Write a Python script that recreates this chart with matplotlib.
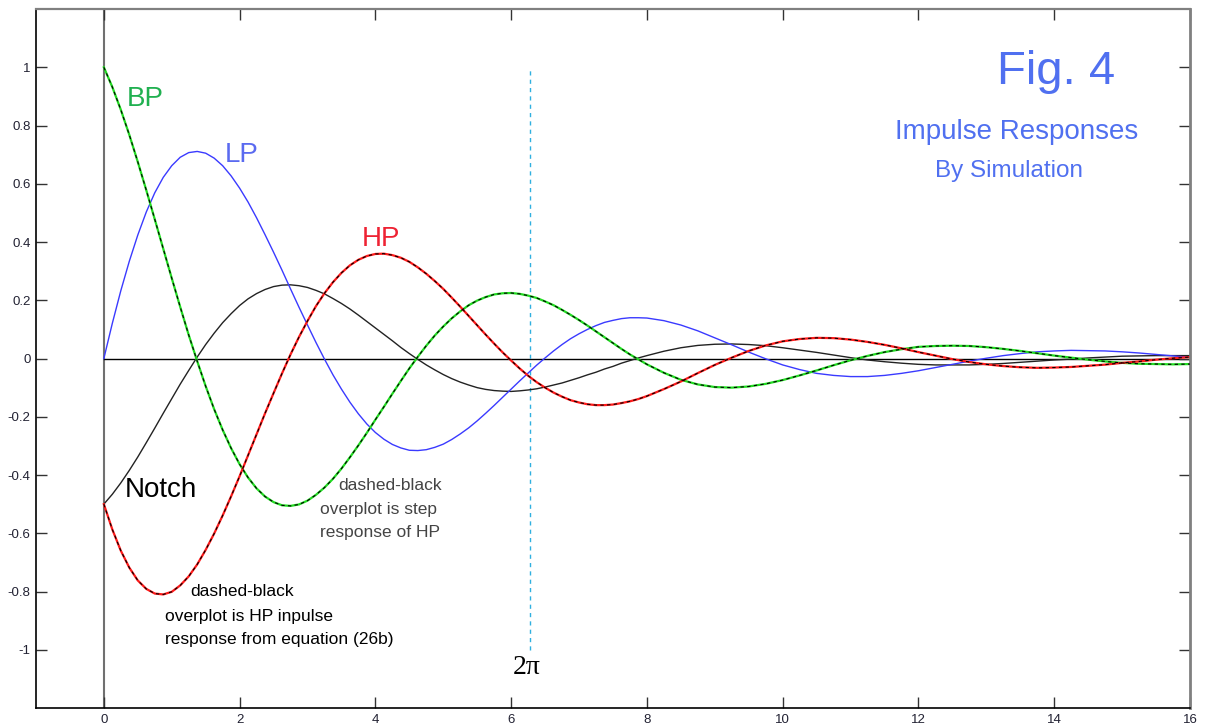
import numpy as np
import matplotlib
matplotlib.use("Agg")
import matplotlib.pyplot as plt

plt.rcParams['font.family'] = ['Liberation Sans', 'DejaVu Sans']

# sample times: 0.125 s steps up to 8 s, then 0.25 s steps
t = np.concatenate([np.arange(0, 8, 0.125), np.arange(8, 16.01, 0.25)])

# values
lp = [0.000, 0.121, 0.233, 0.334, 0.424, 0.503, 0.569, 0.622, 0.662, 0.691,
      0.707, 0.711, 0.705, 0.688, 0.662, 0.627, 0.585, 0.537, 0.483, 0.425,
      0.365, 0.303, 0.239, 0.176, 0.115, 0.055, -0.002, -0.056, -0.105, -0.150,
      -0.190, -0.225, -0.254, -0.277, -0.295, -0.307, -0.315, -0.316, -0.313, -0.305,
      -0.294, -0.278, -0.259, -0.238, -0.214, -0.188, -0.161, -0.133, -0.105, -0.077,
      -0.050, -0.023, 0.002, 0.026, 0.048, 0.068, 0.085, 0.100, 0.113, 0.124,
      0.131, 0.137, 0.140, 0.140,
      0.139, 0.130, 0.115, 0.095, 0.071, 0.047, 0.022, -0.001,
      -0.022, -0.038, -0.051, -0.058, -0.062, -0.062, -0.058, -0.051, -0.042, -0.031,
      -0.020, -0.009, 0.001, 0.010, 0.017, 0.023, 0.026, 0.028, 0.027, 0.026,
      0.023, 0.019, 0.014, 0.009, 0.004]

bp = [1.000, 0.932, 0.854, 0.768, 0.675, 0.578, 0.478, 0.377, 0.276, 0.177,
      0.081, -0.009, -0.095, -0.174, -0.245, -0.308, -0.363, -0.409, -0.446, -0.474,
      -0.493, -0.504, -0.506, -0.501, -0.488, -0.468, -0.443, -0.413, -0.378, -0.339,
      -0.298, -0.255, -0.210, -0.166, -0.121, -0.077, -0.034, 0.006, 0.044, 0.079,
      0.110, 0.138, 0.162, 0.183, 0.199, 0.211, 0.220, 0.224, 0.225, 0.222,
      0.216, 0.208, 0.196, 0.183, 0.167, 0.150, 0.132, 0.113, 0.093, 0.073,
      0.053, 0.033, 0.014, -0.003,
      -0.020, -0.049, -0.073, -0.089, -0.098, -0.100, -0.096, -0.087,
      -0.074, -0.058, -0.041, -0.023, -0.006, 0.009, 0.022, 0.032, 0.040, 0.043,
      0.044, 0.043, 0.039, 0.033, 0.026, 0.018, 0.010, 0.003, -0.004, -0.010,
      -0.015, -0.018, -0.019, -0.020, -0.019]

hp = [-0.500, -0.587, -0.660, -0.718, -0.762, -0.791, -0.807, -0.810, -0.801, -0.779,
      -0.748, -0.707, -0.657, -0.601, -0.539, -0.473, -0.404, -0.332, -0.260, -0.188,
      -0.119, -0.051, 0.014, 0.074, 0.129, 0.180, 0.224, 0.262, 0.294, 0.320,
      0.339, 0.352, 0.359, 0.360, 0.355, 0.346, 0.332, 0.313, 0.291, 0.266,
      0.239, 0.209, 0.178, 0.146, 0.114, 0.082, 0.051, 0.021, -0.007, -0.034,
      -0.059, -0.081, -0.100, -0.117, -0.131, -0.143, -0.151, -0.157, -0.160, -0.160,
      -0.158, -0.153, -0.147, -0.139,
      -0.129, -0.105, -0.079, -0.050, -0.022, 0.003, 0.026, 0.045,
      0.059, 0.067, 0.071, 0.070, 0.065, 0.057, 0.047, 0.035, 0.022, 0.010,
      -0.002, -0.012, -0.020, -0.026, -0.030, -0.032, -0.031, -0.029, -0.025, -0.021,
      -0.015, -0.010, -0.004, 0.001, 0.005]

notch = [-0.500, -0.466, -0.427, -0.384, -0.338, -0.289, -0.239, -0.188, -0.138, -0.088,
         -0.041, 0.005, 0.048, 0.087, 0.123, 0.154, 0.182, 0.205, 0.223, 0.237,
         0.247, 0.252, 0.253, 0.250, 0.244, 0.234, 0.222, 0.206, 0.189, 0.170,
         0.149, 0.127, 0.105, 0.083, 0.061, 0.038, 0.017, -0.003, -0.022, -0.039,
         -0.055, -0.069, -0.081, -0.091, -0.100, -0.106, -0.110, -0.112, -0.113, -0.111,
         -0.108, -0.104, -0.098, -0.091, -0.084, -0.075, -0.066, -0.056, -0.047, -0.036,
         -0.027, -0.016, -0.007, 0.002,
         0.010, 0.025, 0.037, 0.045, 0.049, 0.050, 0.048, 0.044,
         0.037, 0.029, 0.021, 0.012, 0.003, -0.005, -0.011, -0.016, -0.020, -0.022,
         -0.022, -0.022, -0.020, -0.017, -0.013, -0.009, -0.005, -0.002, 0.002, 0.005,
         0.008, 0.009, 0.010, 0.010, 0.010]

xticks = [0, 2, 4, 6, 8, 10, 12, 14, 16]
yticks = [-1, -0.8, -0.6, -0.4, -0.2, 0, 0.2, 0.4, 0.6, 0.8, 1]
ytick_labels = ["-1", "-0.8", "-0.6", "-0.4", "-0.2", "0", "0.2", "0.4", "0.6", "0.8", "1"]

fig = plt.figure(figsize=(12.07, 7.27), dpi=100)
ax = fig.add_axes([0.0298, 0.0261, 0.9561, 0.9615])
ax.set_xlim(-1, 16)
ax.set_ylim(-1.2, 1.2)

# axis lines through origin
ax.axvline(0, color='#707070', lw=1.5, zorder=1)
ax.plot([0, 16], [0, 0], color='black', lw=1, zorder=1)

# 2*pi marker
ax.plot([2 * np.pi, 2 * np.pi], [-1, 1], color='#30b0e0', lw=1,
        linestyle=(0, (3, 3)), zorder=1)

# curves (BP and HP carry a black dashed overplot)
ax.plot(t, notch, color='#222222', lw=1, zorder=2)
ax.plot(t, lp, color='#3a3aff', lw=1, zorder=2)
ax.plot(t, bp, color='#22dd22', lw=1.6, zorder=2)
ax.plot(t, bp, color='black', lw=0.8, linestyle=(0, (3, 3)), zorder=3)
ax.plot(t, hp, color='#ff1a1a', lw=1.6, zorder=2)
ax.plot(t, hp, color='black', lw=0.8, linestyle=(0, (3, 3)), zorder=3)

# ticks and spines
ax.set_xticks(xticks)
ax.set_xticklabels([str(v) for v in xticks])
ax.set_yticks(yticks)
ax.set_yticklabels(ytick_labels)
ax.tick_params(direction='in', length=8, width=1, top=True, right=True,
               labelsize=9.5, labelcolor='#222233', color='#333333', pad=4)
ax.spines['left'].set_color('black')
ax.spines['bottom'].set_color('black')
ax.spines['top'].set_color('#808080')
ax.spines['right'].set_color('#808080')
ax.spines['top'].set_linewidth(1.6)
ax.spines['right'].set_linewidth(2)
ax.spines['left'].set_linewidth(1.2)
ax.spines['bottom'].set_linewidth(1.2)

# labels
ax.text(0.33, 0.89, "BP", color='#20b050', fontsize=20, va='center')
ax.text(1.78, 0.70, "LP", color='#5a6af0', fontsize=20, va='center')
ax.text(3.80, 0.41, "HP", color='#ee2233', fontsize=20, va='center')
ax.text(0.31, -0.45, "Notch", color='black', fontsize=20, va='center')

ax.text(13.16, 0.985, "Fig. 4", color='#5070f0', fontsize=34, va='center')
ax.text(11.65, 0.777, "Impulse Responses", color='#5070f0', fontsize=20, va='center')
ax.text(12.24, 0.643, "By Simulation", color='#5070f0', fontsize=17.5, va='center')

ax.text(3.46, -0.436, "dashed-black", color='#444444', fontsize=12.5, va='center')
ax.text(3.18, -0.519, "overplot is step", color='#444444', fontsize=12.5, va='center')
ax.text(3.18, -0.598, "response of HP", color='#444444', fontsize=12.5, va='center')

ax.text(1.27, -0.80, "dashed-black", color='black', fontsize=12.5, va='center')
ax.text(0.90, -0.887, "overplot is HP inpulse", color='black', fontsize=12.5, va='center')
ax.text(0.90, -0.966, "response from equation (26b)", color='black', fontsize=12.5, va='center')

ax.text(6.23, -1.062, "2\u03c0", color='black', fontsize=20, ha='center', va='center',
        family=['Liberation Serif', 'DejaVu Serif'])

fig.savefig('out.png', dpi=100)
